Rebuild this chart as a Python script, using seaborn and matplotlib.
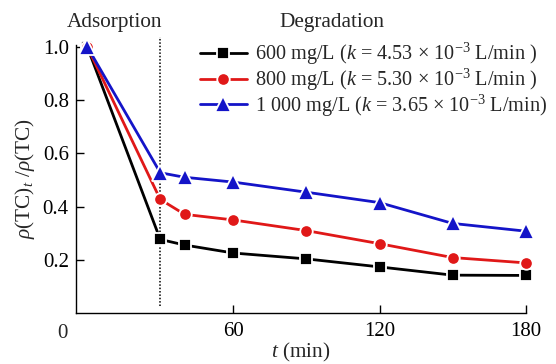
import numpy as np
import pandas as pd
import matplotlib
matplotlib.use("Agg")
import matplotlib.pyplot as plt
import seaborn as sns

# ---- data ----
t_min = [0, 30, 40, 60, 90, 120, 150, 180]
ratio_600 = [1.0, 0.277, 0.256, 0.226, 0.204, 0.174, 0.143, 0.142]
ratio_800 = [1.0, 0.427, 0.371, 0.350, 0.310, 0.261, 0.209, 0.189]
ratio_1000 = [1.0, 0.527, 0.510, 0.492, 0.454, 0.415, 0.337, 0.308]
series_labels = [
    "600 mg/L ($k$ = 4.53 × 10$^{-3}$ L/min )",
    "800 mg/L ($k$ = 5.30 × 10$^{-3}$ L/min )",
    "1 000 mg/L ($k$ = 3.65 × 10$^{-3}$ L/min)",
]
phase_boundary = 30
x_ticks = [60, 120, 180]
y_ticks = [0.2, 0.4, 0.6, 0.8, 1.0]

colors = ["#000000", "#e01818", "#1414c8"]
markers = ["s", "o", "^"]

df = pd.concat([
    pd.DataFrame({"t": t_min, "ratio": vals, "series": lab})
    for vals, lab in zip([ratio_600, ratio_800, ratio_1000], series_labels)
], ignore_index=True)

sns.set_theme(style="ticks")
plt.rcParams["font.family"] = ["Liberation Serif", "DejaVu Serif"]
plt.rcParams["mathtext.fontset"] = "custom"
plt.rcParams["mathtext.rm"] = "Liberation Serif"
plt.rcParams["mathtext.it"] = "Liberation Serif:italic"
plt.rcParams["mathtext.bf"] = "Liberation Serif:bold"

FS = 15.3
TFS = 15.0
LFS = 14.6
fig = plt.figure(figsize=(5.56, 3.64), dpi=100)
ax = fig.add_axes([75.7 / 556, 1 - 313.3 / 364, (525.7 - 75.7) / 556, (313.3 - 45) / 364])

sns.lineplot(data=df, x="t", y="ratio", hue="series", style="series",
             palette=colors, markers=markers, dashes=False,
             linewidth=2.0, markersize=9.0, markeredgecolor="white",
             markeredgewidth=1.3, ax=ax, legend=True)

for ln in ax.get_lines():
    ln.set_clip_on(False)
    if ln.get_marker() == "^":
        ln.set_markersize(11)

ax.axvline(phase_boundary, ymin=0.028, ymax=1.03, color="black", lw=1.1,
           ls=(0, (1, 1.2)), clip_on=False, zorder=1)

ax.set_xlim(-4.7, 180)
ax.set_ylim(0, 1.006)
ax.set_xticks(x_ticks)
ax.set_xticklabels([str(v) for v in x_ticks])
ax.set_yticks(y_ticks)
ax.set_yticklabels([f"{v:.1f}" for v in y_ticks])
ax.tick_params(direction="in", length=5.5, width=1.0, labelsize=TFS, pad=5,
               colors="black")
ax.tick_params(axis="x", pad=6)
for s in ["top", "right"]:
    ax.spines[s].set_visible(False)
for s in ["left", "bottom"]:
    ax.spines[s].set_linewidth(1.0)
    ax.spines[s].set_color("black")

ax.text(-10, -0.04, "0", transform=ax.transData, ha="center", va="top",
        fontsize=TFS)

ax.set_xlabel("$t$ (min)", fontsize=FS, labelpad=0)
ax.set_ylabel(r"$\rho$(TC)$_t$ /$\rho$(TC)", fontsize=FS, labelpad=4)

handles, labels = ax.get_legend_handles_labels()
for h in handles:
    if h.get_marker() == "^":
        h.set_markersize(11)
ax.get_legend().remove()
leg = fig.legend(handles, labels, loc="upper left",
                 bbox_to_anchor=(200 / 556, 1 - 41 / 364), frameon=False,
                 fontsize=LFS, handlelength=2.3, handletextpad=0.4,
                 labelspacing=-0.02, borderpad=0, borderaxespad=0)

fig.text(114.5 / 556, 1 - 27 / 364, "Adsorption", ha="center",
         va="baseline", fontsize=FS)
fig.text(331.5 / 556, 1 - 27 / 364, "Degradation", ha="center",
         va="baseline", fontsize=FS)

fig.savefig("out.png", dpi=100)
